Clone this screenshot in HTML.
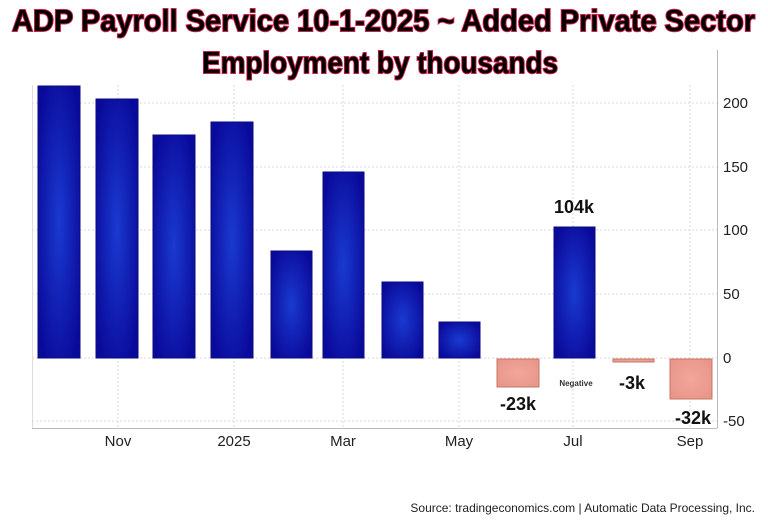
<!DOCTYPE html>
<html><head><meta charset="utf-8"><style>
html,body{margin:0;padding:0;background:#fff;}
svg{display:block;}
</style></head><body>
<svg width="768" height="524" viewBox="0 0 768 524" xmlns="http://www.w3.org/2000/svg" font-family="Liberation Sans, sans-serif">
<defs>
<radialGradient id="bg" cx="50%" cy="50%" r="60%">
<stop offset="0" stop-color="#1a3ad0"/><stop offset="1" stop-color="#0a0a9a"/>
</radialGradient>
<radialGradient id="pg" cx="50%" cy="50%" r="60%">
<stop offset="0" stop-color="#f2a69a"/><stop offset="1" stop-color="#e8968a"/>
</radialGradient>
</defs>
<g stroke="#d8d8d8" stroke-dasharray="2,2" stroke-width="1">
<line x1="32" y1="103" x2="717" y2="103"/><line x1="32" y1="167" x2="717" y2="167"/>
<line x1="32" y1="230" x2="717" y2="230"/><line x1="32" y1="294" x2="717" y2="294"/>
<line x1="32" y1="358" x2="717" y2="358"/><line x1="32" y1="421" x2="717" y2="421"/>
<line x1="118" y1="85" x2="118" y2="428"/><line x1="234" y1="85" x2="234" y2="428"/>
<line x1="343" y1="85" x2="343" y2="428"/><line x1="459" y1="85" x2="459" y2="428"/>
<line x1="573" y1="85" x2="573" y2="428"/><line x1="690" y1="85" x2="690" y2="428"/>
</g>
<line x1="32" y1="428.5" x2="717" y2="428.5" stroke="#bbb"/>
<line x1="717.5" y1="50" x2="717.5" y2="428" stroke="#bbb"/>
<line x1="32.5" y1="85" x2="32.5" y2="428" stroke="#ddd"/>
<g fill="url(#bg)" stroke="#0a0a80" stroke-width="1">
<rect x="38" y="86" width="42" height="272"/>
<rect x="96" y="99" width="42" height="259"/>
<rect x="153" y="135" width="42" height="223"/>
<rect x="211" y="122" width="42" height="236"/>
<rect x="271" y="251" width="41" height="107"/>
<rect x="323" y="172" width="41" height="186"/>
<rect x="382" y="282" width="41" height="76"/>
<rect x="439" y="322" width="41" height="36"/>
<rect x="554" y="227" width="41" height="131"/>
</g>
<g fill="url(#pg)" stroke="#c87468" stroke-width="1">
<rect x="497" y="359" width="42" height="28"/>
<rect x="613" y="359" width="41" height="3"/>
<rect x="670" y="359" width="42" height="40"/>
</g>
<g font-size="15" fill="#222">
<text x="118" y="446" text-anchor="middle">Nov</text>
<text x="234" y="446" text-anchor="middle">2025</text>
<text x="343" y="446" text-anchor="middle">Mar</text>
<text x="459" y="446" text-anchor="middle">May</text>
<text x="573" y="446" text-anchor="middle">Jul</text>
<text x="690" y="446" text-anchor="middle">Sep</text>
<text x="723" y="108">200</text><text x="723" y="172">150</text>
<text x="723" y="235">100</text><text x="723" y="299">50</text>
<text x="723" y="363">0</text><text x="723" y="426">-50</text>
</g>
<g font-weight="bold" fill="#111" font-size="18">
<text x="574" y="213" text-anchor="middle">104k</text>
<text x="518" y="410" text-anchor="middle">-23k</text>
<text x="632" y="389" text-anchor="middle">-3k</text>
<text x="693" y="424" text-anchor="middle">-32k</text>
<text x="576" y="386" text-anchor="middle" font-size="8" fill="#333">Negative</text>
</g>
<g font-family="Liberation Sans Narrow, Liberation Sans, sans-serif" font-weight="bold" font-size="31" fill="#000" stroke="#d0204a" stroke-width="2" paint-order="stroke">
<text x="12" y="31" textLength="743" lengthAdjust="spacingAndGlyphs">ADP Payroll Service 10-1-2025 ~ Added Private Sector</text>
<text x="202" y="73" textLength="356" lengthAdjust="spacingAndGlyphs">Employment by thousands</text>
</g>
<text x="755" y="512" text-anchor="end" font-size="12" fill="#222">Source: tradingeconomics.com | Automatic Data Processing, Inc.</text>
</svg>
</body></html>
